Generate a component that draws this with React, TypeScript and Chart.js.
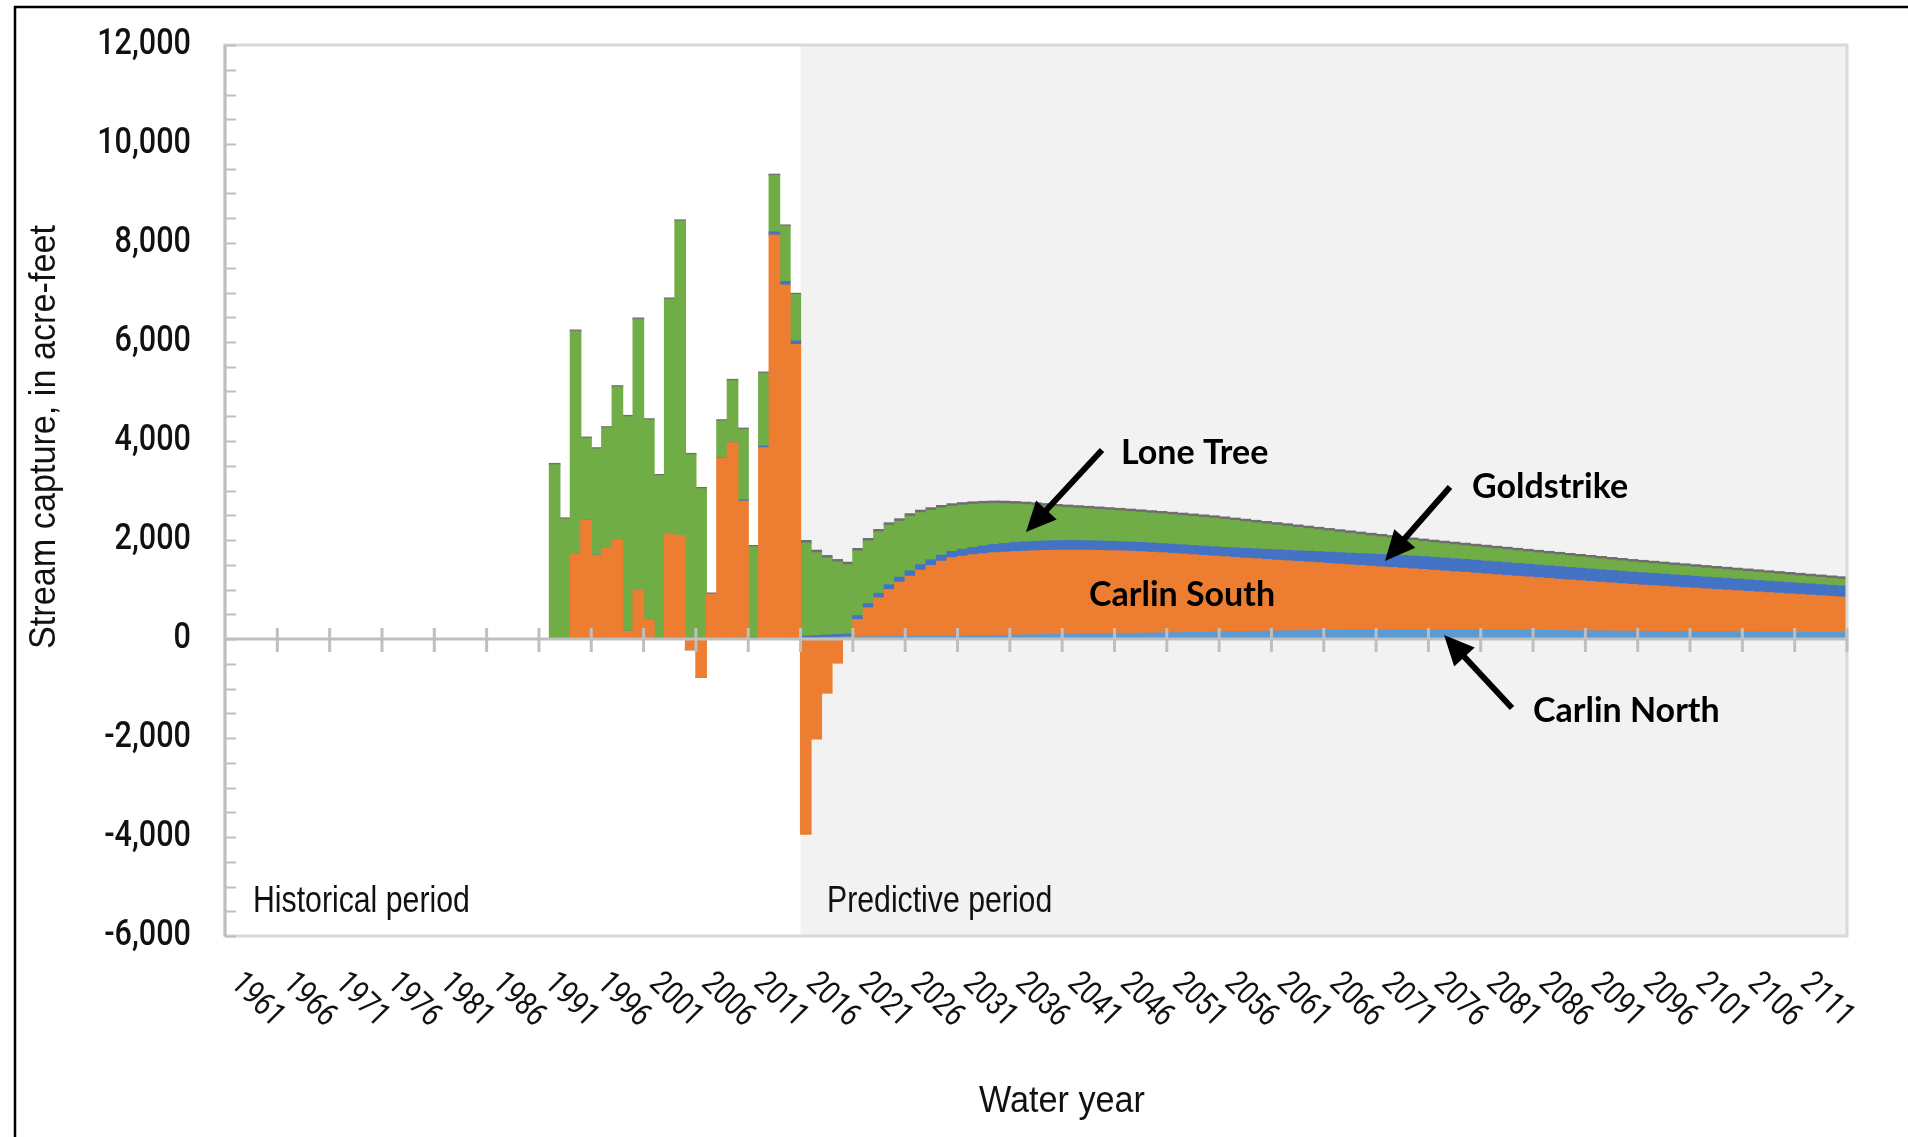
import React, { useEffect, useRef } from 'react';
import { Chart, registerables } from 'chart.js';

Chart.register(...registerables);

// ---------- categories ----------
const FIRST_YEAR = 1961;
const LAST_YEAR = 2115;
const YEARS: string[] = Array.from({ length: LAST_YEAR - FIRST_YEAR + 1 }, (_, i) => String(FIRST_YEAR + i));
const DATA_START_YEAR = 1992; // first year with stream capture
const PREDICTIVE_START_YEAR = 2016;
const X_LABEL_STEP = 5;

// ---------- y axis ----------
const Y_MIN = -6000;
const Y_MAX = 12000;
const Y_STEP = 2000;
const Y_MINOR_STEP = 500;

// ---------- series values (acre-feet), water years 1992-2115 ----------
const carlinNorth = [
  0, 0, 0, 0, 0, 0, 0, 0, 0, 0, 0, 0, 0, 0, 0, 0, 0, 0, 0, 0, 0, 0, 0, 0,
  20, 25, 30, 35, 40, 40, 42, 44, 46, 48, 50, 52, 54, 56, 58, 60, 62, 65, 68, 72,
  76, 80, 84, 87, 90, 93, 96, 99, 102, 105, 108, 111, 114, 117, 120, 124, 128, 132, 136, 140,
  143, 146, 149, 152, 155, 158, 161, 164, 167, 170, 172, 174, 176, 178, 180, 182, 184, 186, 187, 188,
  188, 188, 187, 186, 185, 183, 181, 179, 177, 175, 173, 170, 168, 165, 163, 161, 159, 157, 155, 154,
  152, 151, 150, 149, 148, 147, 146, 145, 144, 143, 142, 141, 140, 139, 138, 137, 136, 135, 134, 134,
];

const carlinSouth = [
  0, 0, 1718, 2398, 1691, 1840, 1988, 154, 977, 384, 0, 2109, 2089, -216, -776, 902, 3652, 3963, 2780, 0, 3860, 8160, 7150, 5950,
  -3943, -2016, -1092, -485, 0, 350, 585, 785, 951, 1097, 1216, 1335, 1428, 1513, 1580, 1612, 1638, 1657, 1672, 1680,
  1687, 1692, 1695, 1698, 1700, 1699, 1696, 1691, 1685, 1677, 1668, 1658, 1646, 1633, 1619, 1603, 1586, 1568, 1550, 1532,
  1515, 1498, 1482, 1465, 1449, 1432, 1415, 1399, 1382, 1366, 1350, 1335, 1319, 1304, 1288, 1273, 1257, 1242, 1227, 1213,
  1198, 1183, 1169, 1155, 1141, 1127, 1114, 1101, 1088, 1075, 1062, 1049, 1036, 1024, 1011, 998, 984, 971, 958, 944,
  933, 922, 910, 898, 887, 875, 863, 852, 840, 828, 817, 805, 793, 782, 770, 758, 747, 735, 723, 711,
];

const goldstrike = [
  0, 0, 0, 0, 0, 0, 0, 0, 0, 0, 0, 0, 0, 0, 0, 0, 0, 0, 25, 30, 35, 60, 68, 68,
  35, 40, 45, 50, 55, 80, 85, 90, 95, 100, 105, 110, 115, 120, 128, 137, 146, 155, 165, 175,
  182, 187, 190, 192, 193, 193, 192, 191, 190, 189, 188, 187, 186, 186, 185, 185, 185, 185, 185, 185,
  188, 192, 196, 200, 204, 208, 212, 216, 220, 224, 228, 232, 236, 240, 244, 248, 252, 255, 258, 260,
  261, 262, 262, 262, 261, 260, 259, 258, 257, 256, 255, 254, 254, 253, 253, 252, 252, 251, 251, 250,
  249, 247, 246, 244, 243, 241, 240, 238, 237, 235, 234, 232, 231, 229, 228, 227, 226, 225, 224, 223,
];

const loneTree = [
  3520, 2420, 4497, 1654, 2146, 2422, 3103, 4336, 5481, 4039, 3297, 4753, 6351, 3722, 3034, 0, 751, 1255, 1428, 1832, 1471, 1143, 1120, 939,
  1883, 1677, 1559, 1468, 1404, 1306, 1266, 1241, 1203, 1131, 1107, 1053, 1002, 956, 914, 893, 872, 851, 829, 805,
  779, 753, 730, 706, 683, 668, 656, 646, 637, 629, 622, 615, 610, 604, 600, 595, 591, 587, 583, 579,
  567, 554, 540, 527, 513, 500, 487, 472, 458, 443, 429, 414, 400, 385, 371, 357, 343, 329, 316, 304,
  297, 290, 285, 279, 274, 271, 266, 262, 257, 252, 248, 244, 239, 234, 229, 224, 220, 215, 210, 205,
  202, 198, 195, 192, 188, 185, 182, 178, 175, 172, 168, 166, 162, 159, 155, 152, 147, 144, 140, 136,
];

const otherMines = [
  25, 25, 25, 25, 25, 25, 25, 25, 25, 25, 25, 25, 25, 25, 25, 25, 25, 25, 25, 25, 25, 25, 25, 25,
  50, 50, 50, 50, 50, 50, 50, 50, 50, 50, 50, 50, 50, 50, 50, 50, 50, 50, 50, 50,
  50, 50, 50, 50, 50, 50, 50, 50, 50, 50, 50, 50, 50, 50, 50, 50, 50, 50, 50, 50,
  50, 50, 50, 50, 50, 50, 50, 50, 50, 50, 50, 50, 50, 50, 50, 50, 50, 50, 50, 50,
  50, 50, 50, 50, 50, 50, 50, 50, 50, 50, 50, 50, 50, 50, 50, 50, 50, 50, 50, 50,
  50, 50, 50, 50, 50, 50, 50, 50, 50, 50, 50, 50, 50, 50, 50, 50, 50, 50, 50, 50,
];

const SERIES_NAMES = ['Carlin North', 'Carlin South', 'Goldstrike', 'Lone Tree', 'Other'];
const SERIES_COLORS = ['#5B9BD5', '#ED7D31', '#4472C4', '#70AD47', '#6E6E6E'];

// ---------- annotation texts ----------
const PERIOD_LABELS = ['Historical period', 'Predictive period'];
const Y_TITLE = 'Stream capture, in acre-feet';
const X_TITLE = 'Water year';

const SANS = "'Liberation Sans', Arial, sans-serif";
const TICK_FONT = "Roboto, 'Liberation Sans', Arial, sans-serif";
const BOLD = "'Lato', 'Open Sans', sans-serif";

const pad = (arr: number[]) => {
  const lead = DATA_START_YEAR - FIRST_YEAR;
  return [...new Array(lead).fill(null), ...arr];
};

// condensed text: a sans face squeezed horizontally
function condText(
  ctx: CanvasRenderingContext2D,
  text: string,
  x: number,
  y: number,
  size: number,
  sx: number,
  align: CanvasTextAlign,
  rotation = 0,
  family = SANS,
  weight = '400',
) {
  ctx.save();
  ctx.translate(x, y);
  if (rotation) ctx.rotate(rotation);
  ctx.scale(sx, 1);
  ctx.font = `${weight} ${size}px ${family}`;
  ctx.textAlign = align;
  ctx.textBaseline = 'middle';
  ctx.fillStyle = '#111';
  ctx.fillText(text, 0, 0);
  ctx.restore();
}

function drawArrow(ctx: CanvasRenderingContext2D, x1: number, y1: number, x2: number, y2: number) {
  const a = Math.atan2(y2 - y1, x2 - x1);
  const headLen = 30;
  const headW = 28;
  const bx = x2 - Math.cos(a) * headLen;
  const by = y2 - Math.sin(a) * headLen;
  ctx.save();
  ctx.strokeStyle = '#000';
  ctx.fillStyle = '#000';
  ctx.lineWidth = 6;
  ctx.beginPath();
  ctx.moveTo(x1, y1);
  ctx.lineTo(bx + Math.cos(a) * 4, by + Math.sin(a) * 4);
  ctx.stroke();
  ctx.beginPath();
  ctx.moveTo(x2, y2);
  ctx.lineTo(bx - Math.sin(a) * headW / 2, by + Math.cos(a) * headW / 2);
  ctx.lineTo(bx + Math.sin(a) * headW / 2, by - Math.cos(a) * headW / 2);
  ctx.closePath();
  ctx.fill();
  ctx.restore();
}

const decorPlugin = {
  id: 'decor',
  beforeDraw(chart: any) {
    const { ctx, chartArea: ca, scales } = chart;
    const x = scales.x;
    ctx.save();
    ctx.fillStyle = '#ffffff';
    ctx.fillRect(0, 0, chart.width, chart.height);
    const pIdx = YEARS.indexOf(String(PREDICTIVE_START_YEAR));
    const px = x.getPixelForValue(pIdx - 0.5);
    ctx.fillStyle = '#F2F2F2';
    ctx.fillRect(px, ca.top, ca.right - px, ca.bottom - ca.top);
    ctx.restore();
  },
  afterDatasetsDraw(chart: any) {
    const { ctx, chartArea: ca, scales } = chart;
    const x = scales.x;
    const y = scales.y;
    ctx.save();

    // plot frame
    ctx.strokeStyle = '#D9D9D9';
    ctx.lineWidth = 3;
    ctx.strokeRect(ca.left, ca.top, ca.right - ca.left, ca.bottom - ca.top);

    // left axis + minor ticks
    ctx.strokeStyle = '#BFBFBF';
    ctx.lineWidth = 3;
    ctx.beginPath();
    ctx.moveTo(ca.left, ca.top);
    ctx.lineTo(ca.left, ca.bottom);
    ctx.stroke();
    ctx.lineWidth = 2;
    for (let v = Y_MIN; v <= Y_MAX; v += Y_MINOR_STEP) {
      const py = Math.round(y.getPixelForValue(v)) + 0.5;
      ctx.beginPath();
      ctx.moveTo(ca.left, py);
      ctx.lineTo(ca.left + 11, py);
      ctx.stroke();
    }

    // y tick labels (from the scale's own ticks)
    for (const t of y.ticks) {
      const py = y.getPixelForValue(t.value);
      condText(ctx, Number(t.value).toLocaleString('en-US'), ca.left - 34, py, 36, 0.85, 'right', 0, TICK_FONT, '500');
    }

    // zero line with category ticks
    const y0 = y.getPixelForValue(0);
    ctx.strokeStyle = '#BFBFBF';
    ctx.lineWidth = 3;
    ctx.beginPath();
    ctx.moveTo(ca.left, y0);
    ctx.lineTo(ca.right, y0);
    ctx.stroke();
    for (let k = X_LABEL_STEP; k <= YEARS.length; k += X_LABEL_STEP) {
      const bx = x.getPixelForValue(k - 0.5);
      ctx.beginPath();
      ctx.moveTo(bx, y0 - 11);
      ctx.lineTo(bx, y0 + 13);
      ctx.stroke();
    }

    // x tick labels (rotated clockwise)
    for (let i = 0; i < YEARS.length; i += X_LABEL_STEP) {
      const cx = x.getPixelForValue(i);
      condText(ctx, YEARS[i], cx + 5, 979, 33, 0.82, 'left', Math.PI / 4, TICK_FONT, '400');
    }

    // axis titles
    condText(ctx, X_TITLE, 1062, 1102, 36, 0.95, 'center');
    condText(ctx, Y_TITLE, 45, 437, 36, 0.95, 'center', -Math.PI / 2);

    // period labels
    condText(ctx, PERIOD_LABELS[0], 253, 902, 36, 0.84, 'left');
    condText(ctx, PERIOD_LABELS[1], 827, 902, 36, 0.84, 'left');

    // series annotations
    ctx.fillStyle = '#000';
    ctx.textAlign = 'left';
    ctx.textBaseline = 'middle';
    ctx.font = `bold 34px ${BOLD}`;
    ctx.fillText(SERIES_NAMES[3], 1121, 453);
    ctx.fillText(SERIES_NAMES[2], 1472, 487);
    ctx.fillText(SERIES_NAMES[1], 1089, 595);
    ctx.fillText(SERIES_NAMES[0], 1533, 711);
    drawArrow(ctx, 1102, 450, 1026, 532);
    drawArrow(ctx, 1450, 487, 1385, 561);
    drawArrow(ctx, 1512, 708, 1444, 635);

    // outer frame
    ctx.strokeStyle = '#000';
    ctx.lineWidth = 2.5;
    ctx.beginPath();
    ctx.moveTo(15, chart.height);
    ctx.lineTo(15, 7);
    ctx.lineTo(chart.width, 7);
    ctx.stroke();

    ctx.restore();
  },
};

export default function App() {
  const ref = useRef<HTMLCanvasElement | null>(null);

  useEffect(() => {
    if (!ref.current) return;
    const seriesValues = [carlinNorth, carlinSouth, goldstrike, loneTree, otherMines];
    const chart = new Chart(ref.current, {
      type: 'bar',
      data: {
        labels: YEARS,
        datasets: seriesValues.map((vals, i) => ({
          label: SERIES_NAMES[i],
          data: pad(vals),
          backgroundColor: SERIES_COLORS[i],
          borderWidth: 0,
          barPercentage: 1,
          categoryPercentage: 1,
          inflateAmount: 0.6,
        })),
      },
      options: {
        animation: false,
        responsive: false,
        devicePixelRatio: 1,
        layout: { padding: { left: 0, right: 61, top: 45, bottom: 201 } },
        plugins: {
          legend: { display: false },
          tooltip: { enabled: false },
        },
        scales: {
          x: {
            type: 'category',
            stacked: true,
            display: false,
            grid: { display: false },
          },
          y: {
            stacked: true,
            min: Y_MIN,
            max: Y_MAX,
            grid: { display: false, drawTicks: false },
            border: { display: false },
            ticks: {
              stepSize: Y_STEP,
              display: false,
            },
            afterFit: (scale: any) => {
              scale.width = 225;
            },
          },
        },
      },
      plugins: [decorPlugin],
    } as any);
    return () => chart.destroy();
  }, []);

  return (
    <div style={{ position: 'fixed', left: 0, top: 0, width: 1908, height: 1137, background: '#fff' }}>
      <canvas ref={ref} width={1908} height={1137} style={{ display: 'block', width: 1908, height: 1137 }} />
    </div>
  );
}
